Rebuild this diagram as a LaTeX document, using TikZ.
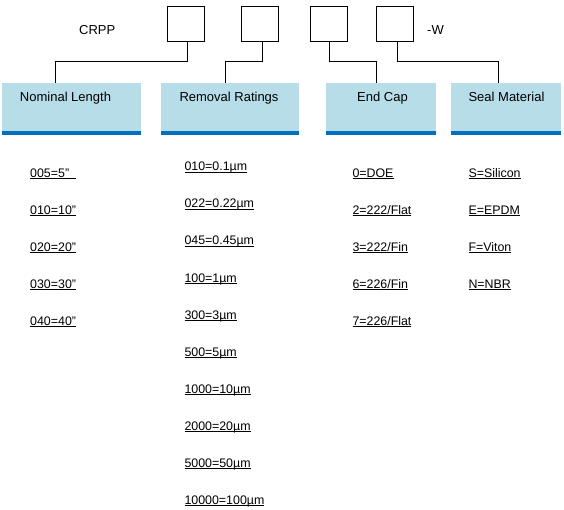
\documentclass[tikz,border=0pt]{standalone}
\usepackage{fontspec}
\setmainfont{Liberation Sans}
\definecolor{boxblue}{RGB}{183,221,232}
\definecolor{barblue}{RGB}{0,112,192}
\newcommand\ulx[1]{\setbox0\hbox{#1}\rlap{\rule[-2pt]{\wd0}{1pt}}\box0}
\begin{document}
\begin{tikzpicture}[x=1pt,y=-1pt,
  codebox/.style={draw,line width=1pt,minimum width=37pt,minimum height=35pt,inner sep=0pt},
  cat/.style={fill=boxblue,minimum height=52pt,inner sep=0pt},
  bar/.style={fill=barblue},
  hdr/.style={inner sep=0pt,anchor=base,font=\fontsize{13}{15}\selectfont},
  plain/.style={inner sep=0pt,anchor=base west,font=\fontsize{13}{15}\selectfont},
  item/.style={inner sep=0pt,anchor=base west,font=\fontsize{12.4}{14}\selectfont},
  conn/.style={line width=1pt}]
\useasboundingbox (0,0) rectangle (564,510);
% code boxes
\node[codebox] (b1) at (186.3,23.8) {};
\node[codebox] (b2) at (260.3,23.8) {};
\node[codebox] (b3) at (329.3,23.8) {};
\node[codebox] (b4) at (395.3,23.8) {};
\node[plain] (crpp) at (79,35) {CRPP};
\node[plain] (w) at (427,35) {-W};
% category boxes
\node[cat,minimum width=139pt] (nl) at (71.5,109) {};
\node[cat,minimum width=138pt] (rr) at (230,109) {};
\node[cat,minimum width=110pt] (ec) at (381,109) {};
\node[cat,minimum width=110pt] (sm) at (506,109) {};
\foreach \n in {nl,rr,ec,sm}{
  \fill[bar] (\n.south west) rectangle ([yshift=4pt]\n.south east);
}
\node[hdr] (nlt) at (65.5,102) {Nominal Length};
\node[hdr] (rrt) at (229,102) {Removal Ratings};
\node[hdr] (ect) at (382.5,102) {End Cap};
\node[hdr] (smt) at (506.5,102) {Seal Material};
% connectors
\draw[conn] ([xshift=1.4pt]b1.south) -- ++(0,20) -| ([xshift=53.3pt]nl.north west);
\draw[conn] ([xshift=2.4pt]b2.south) -- ++(0,20) -| ([xshift=64.7pt]rr.north west);
\draw[conn] (b3.south) -- ++(0,20) -| ([xshift=50.5pt]ec.north west);
\draw[conn] ([xshift=2pt]b4.south) -- ++(0,20) -| ([xshift=47.7pt]sm.north west);
% lists
\node[item] (n1) at (30,177.3) {\ulx{005=5”\ \ }};
\node[item] (n2) at (30,214.3) {\ulx{010=10”}};
\node[item] (n3) at (30,251.3) {\ulx{020=20”}};
\node[item] (n4) at (30,288.3) {\ulx{030=30”}};
\node[item] (n5) at (30,325.3) {\ulx{040=40”}};
\node[item] (r1) at (184.3,171) {\ulx{010=0.1µm}};
\node[item] (r2) at (184.3,208) {\ulx{022=0.22µm}};
\node[item] (r3) at (184.3,245) {\ulx{045=0.45µm}};
\node[item] (r4) at (184.3,282) {\ulx{100=1µm}};
\node[item] (r5) at (184.3,319) {\ulx{300=3µm}};
\node[item] (r6) at (184.3,356) {\ulx{500=5µm}};
\node[item] (r7) at (184.3,393) {\ulx{1000=10µm}};
\node[item] (r8) at (184.3,430) {\ulx{2000=20µm}};
\node[item] (r9) at (184.3,467) {\ulx{5000=50µm}};
\node[item] (r10) at (184.3,504) {\ulx{10000=100µm}};
\node[item] (e1) at (352.3,177.3) {\ulx{0=DOE}};
\node[item] (e2) at (352.3,214.3) {\ulx{2=222/Flat}};
\node[item] (e3) at (352.3,251.3) {\ulx{3=222/Fin}};
\node[item] (e4) at (352.3,288.3) {\ulx{6=226/Fin}};
\node[item] (e5) at (352.3,325.3) {\ulx{7=226/Flat}};
\node[item] (s1) at (468.3,177.3) {\ulx{S=Silicon}};
\node[item] (s2) at (468.3,214.3) {\ulx{E=EPDM}};
\node[item] (s3) at (468.3,251.3) {\ulx{F=Viton}};
\node[item] (s4) at (468.3,288.3) {\ulx{N=NBR}};
\end{tikzpicture}
\end{document}
